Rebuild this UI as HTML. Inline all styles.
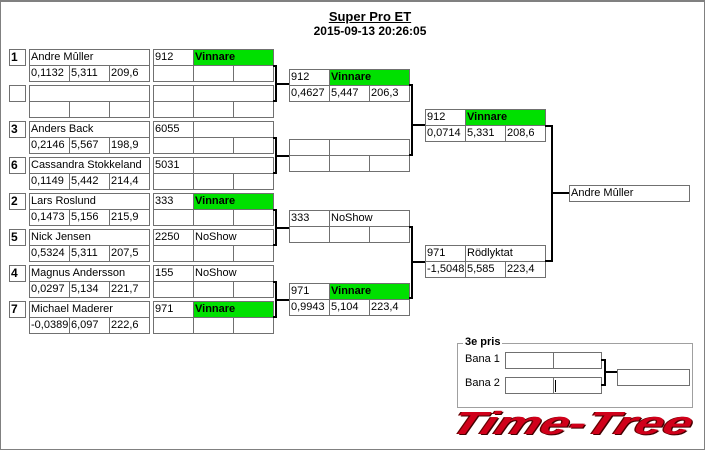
<!DOCTYPE html>
<html><head><meta charset="utf-8">
<style>
html,body{margin:0;padding:0;background:#fff;}
#w{position:relative;width:706px;height:452px;overflow:hidden;background:#fff;font-family:"Liberation Sans",sans-serif;font-size:11px;color:#000;}
.c{position:absolute;box-sizing:border-box;border:1px solid #707070;background:#fff;line-height:14px;padding-left:1px;white-space:nowrap;overflow:hidden;}
.g{background:#00e000;font-weight:bold;}
.s{font-weight:bold;font-size:12px;padding-left:1px;}
.k{position:absolute;background:#000;}
.t{position:absolute;white-space:nowrap;}
</style></head><body><div id="w">
<div class="t" style="left:460px;top:405px;font-size:32px;font-weight:900;font-style:italic;color:#d0001a;text-shadow:1px 1px 0 #400,-1px 0 0 #600;transform-origin:0 0;transform:scaleX(1.58) skewX(-14deg);">Time-Tree</div>
<div style="position:absolute;left:0;top:0;width:705px;height:450px;box-sizing:border-box;border:1px solid #808080;border-top:2px solid #808080;"></div>
<div class="t" style="left:0;width:740px;text-align:center;top:9px;font-weight:bold;font-size:13px;text-decoration:underline;">Super Pro ET</div>
<div class="t" style="left:0;width:740px;text-align:center;top:24px;font-weight:bold;font-size:12px;">2015-09-13 20:26:05</div>
<div id="b"></div>
<div style="position:absolute;left:457px;top:343px;width:236px;height:65px;box-sizing:border-box;border:1px solid #a0a0a0;"></div>
<div class="t" style="left:463px;top:336px;background:#fff;padding:0 2px;font-weight:bold;">3e pris</div>
<div class="t" style="left:465px;top:353px;">Bana 1</div>
<div class="t" style="left:465px;top:377px;">Bana 2</div>
</div>
<script>
var b=document.getElementById('b'),h='';
function c(x,y,w,t,cl){h+='<div class="c '+(cl||'')+'" style="left:'+x+'px;top:'+y+'px;width:'+(w+1)+'px;height:17px">'+(t||'')+'</div>';}
function k(x,y,w,hh){h+='<div class="k" style="left:'+x+'px;top:'+y+'px;width:'+w+'px;height:'+hh+'px"></div>';}
function res(x,y,a,bb,g,d1,d2,d3){c(x,y,40,a);c(x+40,y,80,bb,g?'g':'');c(x,y+16,40,d1);c(x+40,y+16,40,d2);c(x+80,y+16,40,d3);}
var E=[['1','Andre Mûller','0,1132','5,311','209,6','912','Vinnare',1],
['','','','','','','',0],
['3','Anders Back','0,2146','5,567','198,9','6055','',0],
['6','Cassandra Stokkeland','0,1149','5,442','214,4','5031','',0],
['2','Lars Roslund','0,1473','5,156','215,9','333','Vinnare',1],
['5','Nick  Jensen','0,5324','5,311','207,5','2250','NoShow',0],
['4','Magnus Andersson','0,0297','5,134','221,7','155','NoShow',0],
['7','Michael Maderer','-0,0389','6,097','222,6','971','Vinnare',1]];
E.forEach(function(e,i){var y=49+i*36;
h+='<div class="c s" style="left:9px;top:'+y+'px;width:17px;height:17px">'+e[0]+'</div>';
c(29,y,120,e[1]);c(29,y+16,40,e[2]);c(69,y+16,40,e[3]);c(109,y+16,40,e[4]);
res(153,y,e[5],e[6],e[7],'','','');});
for(var j=0;j<4;j++){var y=65+j*72;k(273,y,4,2);k(273,y+35,4,2);k(275,y,2,37);k(275,y+18,14,2);}
res(289,69,'912','Vinnare',1,'0,4627','5,447','206,3');
res(289,139,'','',0,'','','');
res(289,210,'333','NoShow',0,'','','');
res(289,283,'971','Vinnare',1,'0,9943','5,104','223,4');
k(409,84,4,2);k(411,84,2,72);k(409,154,4,2);k(411,124,14,2);
k(409,226,4,2);k(411,226,2,73);k(409,297,4,2);k(411,261,14,2);
res(425,109,'912','Vinnare',1,'0,0714','5,331','208,6');
res(425,245,'971','Rödlyktat',0,'-1,5048','5,585','223,4');
k(545,125,8,2);k(551,125,2,137);k(545,260,8,2);k(551,192,18,2);
c(569,185,120,'Andre Mûller');
c(505,352,48,'');c(553,352,48,'');c(505,377,48,'');c(553,377,48,'');
k(555,380,1,12);
k(601,359,5,2);k(604,359,2,27);k(601,384,5,2);k(604,371,13,2);
c(617,369,72,'');
b.innerHTML=h;
</script>
</body></html>
